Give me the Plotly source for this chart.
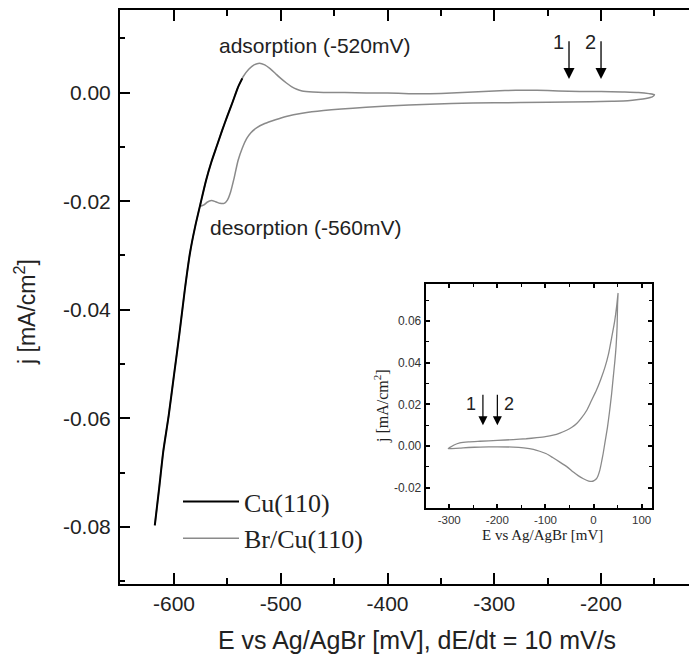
import plotly.graph_objects as go

# ---- Br/Cu(110) cyclic voltammogram (main panel), anodic sweep then cathodic return
E_br_up = [-618, -614, -610, -605, -600, -595, -590, -585, -580, -575, -570, -565, -560, -555,
           -550, -545, -540, -535, -530, -525, -520, -515, -510, -505, -500, -495, -490, -485,
           -480, -470, -460, -440, -420, -400, -380, -360, -340, -320, -300, -280, -260, -240,
           -220, -200, -180, -165, -155, -150]
j_br_up = [-0.0797, -0.0730, -0.0660, -0.0595, -0.0520, -0.0445, -0.0365, -0.0295, -0.0245,
           -0.0203, -0.0162, -0.0128, -0.0099, -0.0070, -0.0043, -0.0017, 0.0010, 0.0030,
           0.0043, 0.0051, 0.0054, 0.0051, 0.0044, 0.0035, 0.0026, 0.0018, 0.0011, 0.0006,
           0.0003, 0.0001, 0.0000, 0.0000, -0.0001, -0.0001, -0.0002, -0.0002, -0.0001,
           0.0001, 0.0003, 0.0004, 0.0004, 0.0003, 0.0002, 0.0002, 0.0001, 0.0000, -0.0002,
           -0.0004]
E_br_down = [-152, -158, -165, -175, -190, -210, -250, -300, -340, -380, -420, -460, -480,
             -495, -505, -515, -522, -528, -532, -536, -540, -544, -547, -550, -553, -557,
             -561, -565, -569, -572, -576]
j_br_down = [-0.0008, -0.0011, -0.0013, -0.0015, -0.0016, -0.0017, -0.0018, -0.0019, -0.0020,
             -0.0023, -0.0027, -0.0033, -0.0038, -0.0044, -0.0050, -0.0057, -0.0064, -0.0074,
             -0.0085, -0.0102, -0.0125, -0.0160, -0.0183, -0.0198, -0.0204, -0.0204, -0.0201,
             -0.0199, -0.0202, -0.0207, -0.0210]

# ---- clean Cu(110), cathodic region only
E_cu = [-618, -614, -610, -605, -600, -595, -590, -585, -580, -575, -570, -565, -560, -555,
        -550, -545, -540, -536]
j_cu = [-0.0797, -0.0730, -0.0660, -0.0595, -0.0520, -0.0445, -0.0365, -0.0295, -0.0245,
        -0.0203, -0.0162, -0.0128, -0.0099, -0.0070, -0.0043, -0.0017, 0.0010, 0.0026]

# ---- inset: wider potential window
E_in_up = [-302, -290, -278, -260, -236, -200, -167, -140, -118, -100, -84, -70, -56, -45,
           -35, -25, -14, -5, 6, 15, 24, 31, 38, 44, 48, 51]
j_in_up = [-0.0012, 0.0005, 0.0015, 0.0020, 0.0023, 0.0027, 0.0031, 0.0035, 0.0040, 0.0045,
           0.0052, 0.0062, 0.0076, 0.0090, 0.0108, 0.0135, 0.0172, 0.0215, 0.0268, 0.0320,
           0.0380, 0.0440, 0.0524, 0.0600, 0.0669, 0.0733]
E_in_down = [50, 49, 47, 44.5, 41, 37.6, 33, 29, 24, 20, 16, 13, 9, 6, 1, -4, -10, -21, -32,
             -42, -55, -70, -85, -98, -112, -125, -145, -167, -200, -236, -260, -278, -295, -302]
j_in_down = [0.0680, 0.0570, 0.0480, 0.0410, 0.0330, 0.0250, 0.0160, 0.0090, 0.0020, -0.0037,
             -0.0085, -0.0117, -0.0145, -0.0157, -0.0166, -0.0170, -0.0168, -0.0157, -0.0142,
             -0.0125, -0.0100, -0.0077, -0.0055, -0.0037, -0.0025, -0.0016, -0.0009, -0.0005,
             -0.0004, -0.0005, -0.0007, -0.0010, -0.0012, -0.0012]

# ---- tick labels
x_ticks = [-600, -500, -400, -300, -200]
x_labels = ["-600", "-500", "-400", "-300", "-200"]
y_ticks = [0.0, -0.02, -0.04, -0.06, -0.08]
y_labels = ["0.00", "-0.02", "-0.04", "-0.06", "-0.08"]
xi_ticks = [-300, -200, -100, 0, 100]
xi_labels = ["-300", "-200", "-100", "0", "100"]
yi_ticks = [0.06, 0.04, 0.02, 0.0, -0.02]
yi_labels = ["0.06", "0.04", "0.02", "0.00", "-0.02"]

# marker potentials 1 and 2
E_marks = [-230, -200]

W, H = 689, 654
GRAY = "#8a8a8a"
SANS = "Liberation Sans, Arial, sans-serif"
SERIF = "Liberation Serif, Times New Roman, serif"

fig = go.Figure()
fig.add_trace(go.Scatter(x=E_br_up + E_br_down, y=j_br_up + j_br_down, mode="lines",
                         line=dict(color=GRAY, width=1.5, shape="spline", smoothing=0.6),
                         name="Br/Cu(110)", legendrank=2))
fig.add_trace(go.Scatter(x=E_cu, y=j_cu, mode="lines",
                         line=dict(color="black", width=2, shape="spline", smoothing=0.6),
                         name="Cu(110)", legendrank=1))
fig.add_trace(go.Scatter(x=E_in_up + E_in_down, y=j_in_up + j_in_down, mode="lines",
                         xaxis="x2", yaxis="y2",
                         line=dict(color=GRAY, width=1.3, shape="spline", smoothing=0.5),
                         showlegend=False))

main_x = [120 / W, 1.0]
main_y = [70 / H, 644 / H]
ins_x = [425.7 / W, 651.7 / W]
ins_y = [(H - 507.7) / H, (H - 284) / H]

axis_common = dict(showgrid=False, zeroline=False, ticks="inside", tickcolor="black",
                   linecolor="black")

fig.update_layout(
    width=W, height=H, margin=dict(l=0, r=0, t=0, b=0),
    paper_bgcolor="white", plot_bgcolor="white",
    xaxis=dict(**axis_common, domain=main_x, range=[-650.6, -117.6], showline=True,
               linewidth=2, mirror="ticks", ticklen=11, tickwidth=2,
               tickvals=x_ticks, ticktext=x_labels, ticklabelstandoff=0,
               tickfont=dict(family=SANS, size=21, color="#222"),
               minor=dict(dtick=50, ticks="inside", ticklen=6, tickwidth=2, tickcolor="black"),
               anchor="y"),
    yaxis=dict(**axis_common, domain=main_y, range=[-0.0905, 0.0152], showline=True,
               linewidth=2, mirror=False, ticklen=10, tickwidth=2,
               tickvals=y_ticks, ticktext=y_labels, ticklabelstandoff=3,
               tickfont=dict(family=SANS, size=21, color="#222"),
               minor=dict(dtick=0.01, ticks="inside", ticklen=5, tickwidth=2, tickcolor="black"),
               anchor="x"),
    yaxis3=dict(showgrid=False, zeroline=False, overlaying="y", side="right", anchor="x",
                range=[-0.0905, 0.0152], showline=False, ticks="inside", ticklen=5,
                tickwidth=2, tickcolor="black", tickvals=y_ticks, showticklabels=False),
    xaxis2=dict(**axis_common, domain=ins_x, range=[-349, 121], showline=True, linewidth=2,
                mirror="ticks", ticklen=4, tickwidth=1.5, tickvals=xi_ticks, ticktext=xi_labels,
                ticklabelstandoff=0, tickfont=dict(family=SANS, size=11.5, color="#333"),
                minor=dict(dtick=50, ticks="inside", ticklen=3, tickwidth=1, tickcolor="black"),
                anchor="y2"),
    yaxis2=dict(**axis_common, domain=ins_y, range=[-0.0296, 0.0778], showline=True,
                linewidth=2, mirror="ticks", ticklen=4, tickwidth=1.5, tickvals=yi_ticks,
                ticktext=yi_labels, ticklabelstandoff=0,
                tickfont=dict(family=SANS, size=12, color="#333"),
                minor=dict(dtick=0.01, ticks="inside", ticklen=3, tickwidth=1, tickcolor="black"),
                anchor="x2"),
    legend=dict(x=178 / W, y=(H - 478) / H, xanchor="left", yanchor="top",
                bgcolor="rgba(0,0,0,0)", borderwidth=0, itemwidth=56,
                font=dict(family=SERIF, size=26, color="#222"), tracegroupgap=0),
    showlegend=True,
)

ann = []
# axis titles
ann.append(dict(text="E vs Ag/AgBr [mV], dE/dt = 10 mV/s", xref="paper", yref="paper",
                x=417 / W, y=(H - 640) / H, xanchor="center", yanchor="middle",
                showarrow=False, font=dict(family=SANS, size=25, color="#222")))
ann.append(dict(text="j [mA/cm<sup>2</sup>]", xref="paper", yref="paper",
                x=25 / W, y=(H - 312) / H, xanchor="center", yanchor="middle",
                showarrow=False, textangle=-90,
                font=dict(family=SANS, size=23, color="#222")))
ann.append(dict(text="E vs Ag/AgBr [mV]", xref="paper", yref="paper",
                x=542.7 / W, y=(H - 535) / H, xanchor="center", yanchor="middle",
                showarrow=False, font=dict(family=SERIF, size=15, color="#222")))
ann.append(dict(text="j [mA/cm<sup>2</sup>]", xref="paper", yref="paper",
                x=381 / W, y=(H - 406) / H, xanchor="center", yanchor="middle",
                showarrow=False, textangle=-90,
                font=dict(family=SERIF, size=16, color="#222")))
# peak labels
ann.append(dict(text="adsorption (-520mV)", x=-468, y=0.0087, xref="x", yref="y",
                showarrow=False, font=dict(family=SANS, size=21, color="#222")))
ann.append(dict(text="desorption (-560mV)", x=-477, y=-0.0248, xref="x", yref="y",
                showarrow=False, font=dict(family=SANS, size=21, color="#222")))
# markers 1 and 2, main panel
for i, e in enumerate(E_marks):
    ann.append(dict(x=e, y=0.0025, ax=e, ay=0.0097, xref="x", yref="y", axref="x", ayref="y",
                    showarrow=True, arrowhead=2, arrowsize=1.7, arrowwidth=1.3,
                    arrowcolor="black", text=""))
    ann.append(dict(text=str(i + 1), x=e - 10, y=0.0093, xref="x", yref="y", showarrow=False,
                    font=dict(family=SANS, size=20, color="#222")))
# markers 1 and 2, inset
for i, e in enumerate(E_marks):
    ann.append(dict(x=e, y=0.010, ax=e, ay=0.0253, xref="x2", yref="y2", axref="x2",
                    ayref="y2", showarrow=True, arrowhead=2, arrowsize=1.5, arrowwidth=1.2,
                    arrowcolor="black", text=""))
    ann.append(dict(text=str(i + 1), x=e + (-25 if i == 0 else 24), y=0.020, xref="x2",
                    yref="y2", showarrow=False, font=dict(family=SANS, size=18, color="#222")))
fig.update_layout(annotations=ann)

fig.write_html("out.html")
